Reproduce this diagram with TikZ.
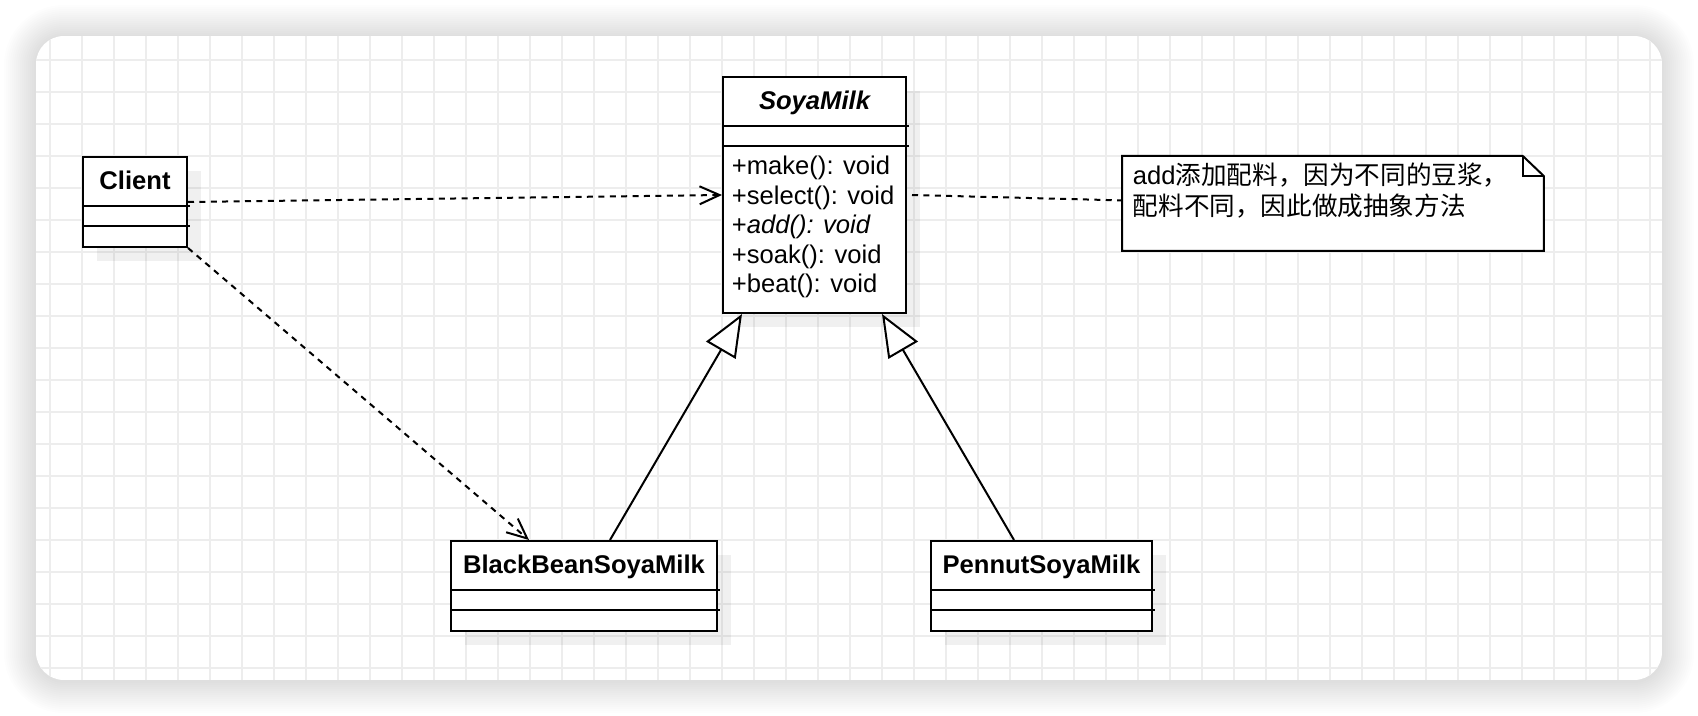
\documentclass[tikz,border=0pt]{standalone}
\usepackage{fontspec}
\setmainfont{Liberation Sans}
\newfontfamily\cjk{Noto Sans CJK SC}
\usetikzlibrary{arrows.meta,calc,shadows}
\definecolor{gridc}{HTML}{EDEDED}
\begin{document}
\begin{tikzpicture}[x=0.5pt,y=-0.5pt,
  umlbox/.style={draw,line width=1pt,fill=white,inner sep=0pt,anchor=north west,
    drop shadow={shadow xshift=7pt,shadow yshift=-7pt,fill=black,opacity=0.06}},
  umlfont/.style={font=\fontsize{12.8pt}{14.75pt}\selectfont},
  titletext/.style={umlfont,font=\fontsize{12.8pt}{14.75pt}\selectfont\bfseries,anchor=base,inner sep=0pt},
  sepline/.style={line width=1pt},
  dep/.style={line width=1pt,dash pattern=on 3pt off 2.7pt,-{Straight Barb[length=10pt,width=9pt]}},
  notelink/.style={line width=1pt,dash pattern=on 3pt off 2.7pt},
  gen/.style={line width=1pt,-{Triangle[length=21pt,width=17pt,fill=white]}}
]
\useasboundingbox (0,0) rectangle (1698,716);
% card shadow
\foreach \i in {1,...,16}{
  \pgfmathsetmacro\rr{14+\i}
  \fill[black,opacity=0.008,rounded corners=\rr pt] ({36-2*\i},{37-2*\i}) rectangle ({1662+2*\i},{681+2*\i});
}
% card with grid
\begin{scope}
  \clip[rounded corners=14pt] (36,36) rectangle (1662,680);
  \fill[white] (36,36) rectangle (1662,680);
  \foreach \x in {50,82,...,1650} \draw[gridc,line width=1pt] (\x,36) -- (\x,680);
  \foreach \y in {60,92,...,668} \draw[gridc,line width=1pt] (36,\y) -- (1662,\y);
\end{scope}

% Client
\node[umlbox,minimum width=52pt,minimum height=45pt] (client) at (82,156) {};
\draw[sepline] ($(client.north west)+(0,50)$) -- ($(client.north east)+(2,50)$);
\draw[sepline] ($(client.north west)+(0,70)$) -- ($(client.north east)+(2,70)$);
\node[titletext] (clientT) at ($(client.north)+(0,34)$) {Client};

% SoyaMilk
\node[umlbox,minimum width=91.5pt,minimum height=118pt] (soya) at (722,76) {};
\draw[sepline] ($(soya.north west)+(0,50)$) -- ($(soya.north east)+(2,50)$);
\draw[sepline] ($(soya.north west)+(0,70)$) -- ($(soya.north east)+(2,70)$);
\node[titletext,font=\fontsize{12.8pt}{14.75pt}\selectfont\bfseries\itshape] (soyaT) at ($(soya.north)+(0,34)$) {SoyaMilk};
\node[umlfont,anchor=base west,align=left,inner sep=0pt] (soyaM) at ($(soya.north west)+(9.5,217)$)
  {+make(): void\\+select(): void\\+\textit{add(): void}\\+soak(): void\\+beat(): void};

% BlackBeanSoyaMilk
\node[umlbox,minimum width=133pt,minimum height=45pt] (bb) at (450,540) {};
\draw[sepline] ($(bb.north west)+(0,50)$) -- ($(bb.north east)+(2,50)$);
\draw[sepline] ($(bb.north west)+(0,70)$) -- ($(bb.north east)+(2,70)$);
\node[titletext] (bbT) at ($(bb.north)+(0,34)$) {BlackBeanSoyaMilk};

% PennutSoyaMilk
\node[umlbox,minimum width=110.5pt,minimum height=45pt] (pn) at (930,540) {};
\draw[sepline] ($(pn.north west)+(0,50)$) -- ($(pn.north east)+(2,50)$);
\draw[sepline] ($(pn.north west)+(0,70)$) -- ($(pn.north east)+(2,70)$);
\node[titletext] (pnT) at ($(pn.north)+(0,34)$) {PennutSoyaMilk};

% Note
\node[inner sep=0pt,anchor=north west,minimum width=210.5pt,minimum height=47pt] (note) at (1122,156) {};
\draw[line width=1pt,fill=white,line join=miter]
  (note.north west) -- ($(note.north east)+(-21,0)$) -- ($(note.north east)+(0,20)$)
  -- (note.south east) -- (note.south west) -- cycle;
\draw[line width=1pt] ($(note.north east)+(-21,0)$) -- ($(note.north east)+(-21,20)$) -- ($(note.north east)+(0,20)$);
\node[anchor=base west,align=left,inner sep=0pt,font=\fontsize{12.8pt}{15.5pt}\selectfont] (noteT)
  at ($(note.north west)+(10.5,60)$)
  {add{\cjk 添加配料，因为不同的豆浆，}\\{\cjk 配料不同，因此做成抽象方法}};

% connectors
\draw[dep] (client.east) -- (soya.west);
\draw[dep] (client.south east) -- ($(bb.north west)+(79,0)$);
\draw[notelink] ($(soya.east)+(5,0)$) -- ($(note.west)+(0,-3)$);
\draw[gen] ($(bb.north west)+(160,0)$) -- ($(soya.south west)+(20,0)$);
\draw[gen] ($(pn.north west)+(84,0)$) -- ($(soya.south west)+(160,0)$);
\end{tikzpicture}
\end{document}
